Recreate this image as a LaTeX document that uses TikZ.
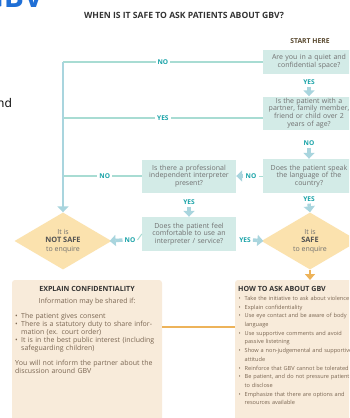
\documentclass[tikz,border=0pt]{standalone}
\usepackage{fontspec}
\setmainfont{Open Sans}
\usetikzlibrary{arrows.meta,shapes.geometric}
\definecolor{tealbox}{HTML}{D3EBE7}
\definecolor{tealline}{HTML}{A8DCD3}
\definecolor{tealarrow}{HTML}{A9D5DE}
\definecolor{teallabel}{HTML}{19A3A8}
\definecolor{diam}{HTML}{FBE2AE}
\definecolor{peach}{HTML}{F8EBDA}
\definecolor{orangeline}{HTML}{EDB35A}
\definecolor{boxtext}{HTML}{707070}
\definecolor{browntext}{HTML}{7A6652}
\definecolor{darktitle}{HTML}{333333}
\definecolor{starttitle}{HTML}{5A4A30}
\definecolor{logoblue}{HTML}{1F6FD6}
\newcommand{\bl}{\makebox[6pt][l]{•}}
\newcommand{\ind}{\hspace*{6pt}}
\begin{document}
\begin{tikzpicture}[x=1pt,y=-1pt,
  qbox/.style={fill=tealbox, draw=none, text=boxtext, font=\fontsize{7}{7.7}\selectfont,
    align=center, minimum width=92pt, inner sep=1pt, text width=90pt},
  lbl/.style={text=teallabel, font=\bfseries\fontsize{6.6}{7}\selectfont, inner sep=2pt, fill=white},
  conn/.style={draw=tealline, line width=2pt},
  fat/.style={draw=tealarrow, line width=3.5pt, -{Triangle[width=11pt,length=6pt]}},
  dnode/.style={diamond, fill=diam, minimum width=97pt, minimum height=57pt, inner sep=0pt,
    aspect=1.7, text=boxtext, font=\fontsize{7}{12}\selectfont, align=center},
  infobox/.style={fill=peach, rounded corners=3pt, anchor=north west},
  btext/.style={text=browntext, font=\fontsize{7}{8.2}\selectfont, align=left, inner sep=0pt, anchor=north west},
  btitle/.style={text=darktitle, font=\bfseries\fontsize{7.1}{8}\selectfont, inner sep=0pt}
]
\clip (0,0) rectangle (349,418);
\useasboundingbox (0,0) rectangle (349,418);
\fill[white] (0,0) rectangle (349,418);

% stray fragments of the surrounding slide
\node[text=logoblue, font=\bfseries\fontsize{30}{30}\selectfont, anchor=base west, inner sep=0pt] (logo) at (-18,7) {GBV};
\node[text=black, font=\fontsize{12}{12}\selectfont, anchor=base west, inner sep=0pt] (nd) at (-3,107) {nd};

% title
\node[text=darktitle, font=\bfseries\fontsize{8.6}{10}\selectfont] (title) at (184,15) {WHEN IS IT SAFE TO ASK PATIENTS ABOUT GBV?};
\node[text=starttitle, font=\bfseries\fontsize{6.8}{8}\selectfont] (start) at (310,41) {START HERE};

% right column questions
\node[qbox, minimum height=24pt] (b1) at (309,62) {Are you in a quiet and\\confidential space?};
\node[qbox, minimum height=33pt] (b2) at (309,113) {Is the patient with a\\partner, family member,\\friend or child over 2\\years of age?};
\node[qbox, minimum height=34pt] (b3) at (309,176) {Does the patient speak\\the language of the\\country?};
% middle column
\node[qbox, minimum width=94pt, text width=92pt, minimum height=33pt] (b4) at (189,176) {Is there a professional\\independent interpreter\\present?};
\node[qbox, minimum width=94pt, text width=92pt, minimum height=34pt] (b5) at (189,234) {Does the patient feel\\comfortable to use an\\interpreter / service?};

% diamonds
\node[dnode] (notsafe) at (63,241) {It is\\[-3.5pt]{\bfseries\color{darktitle!85!white}\fontsize{7.4}{8}\selectfont NOT SAFE}\\[-3.5pt]to enquire};
\node[dnode] (safe) at (310,241) {It is\\[-3.5pt]{\bfseries\color{darktitle!85!white}\fontsize{7.4}{8}\selectfont SAFE}\\[-3.5pt]to enquire};

% vertical stem on the left
\coordinate (L1) at (63,62);
\coordinate (L2) at (63,118);
\coordinate (L3) at (63,176);
\draw[conn] (b1.west) -- node[lbl] {NO} (L1);
\draw[conn] ([yshift=-5pt]b2.west) -- node[lbl] {YES} (L2);
\draw[conn] (b4.west) -- node[lbl, pos=0.47] {NO} (L3);
\draw[draw=tealarrow, line width=2.5pt, -{Triangle[width=11pt,length=6pt]}] (L1) -- (notsafe.north);

% right column arrows
\node[lbl] (y1) at (309,82) {YES};
\draw[fat] (y1.south) -- (b2.north);
\node[lbl] (n2) at (309,143) {NO};
\draw[fat] (n2.south) -- (b3.north);
\node[lbl] (y3) at (309,199) {YES};
\draw[fat] (y3.south) -- (safe.north);

% b3 -> b4
\node[lbl] (n3) at (251,176) {NO};
\draw[fat] (n3.west) -- (b4.east);
\draw[conn, line width=1pt] (b3.west) -- (n3.east);
% b4 -> b5
\node[lbl] (y4) at (189,202) {YES};
\draw[fat] (y4.south) -- (b5.north);
% b5 -> diamonds
\node[lbl] (n5) at (130,240) {NO};
\draw[fat] (n5.west) -- ([xshift=-2pt]notsafe.east);
\draw[conn, line width=1pt] (b5.west) -- (n5.east);
\node[lbl] (y5) at (245,240) {YES};
\draw[fat] (y5.east) -- ([xshift=2pt]safe.west);

% info boxes
\fill[infobox] (12,280) rectangle (162,430);
\fill[infobox] (235,280) rectangle (360,430);
\coordinate (eR) at (162,327);
\coordinate (hL) at (235,327);
\draw[orangeline, line width=1.5pt] (eR) -- (hL);
\draw[orangeline, line width=2pt, -{Triangle[width=10pt,length=6pt]}] (safe.south) -- (310,280);

\node[btitle] (etitle) at (87,288.5) {EXPLAIN CONFIDENTIALITY};
\node[btext, anchor=center] (einfo) at (87,302) {Information may be shared if:};
\node[btext, text width=148pt] (elist) at (15,312.5) {%
\bl The patient gives consent\\
\bl There is a statutory duty to share infor-\\
\ind mation (ex. court order)\\
\bl It is in the best public interest (including\\
\ind safeguarding children)\\[6pt]
You will not inform the partner about the\\
discussion around GBV};

\node[btitle] (htitle) at (282,289) {HOW TO ASK ABOUT GBV};
\node[btext, text width=200pt, font=\fontsize{5.6}{8.7}\selectfont] (hlist) at (238.5,296) {%
\bl Take the initiative to ask about violence\\
\bl Explain confidentiality\\
\bl Use eye contact and be aware of body\\
\ind language\\
\bl Use supportive comments and avoid\\
\ind passive listetning\\
\bl Show a non-judgemental and supportive\\
\ind attitude\\
\bl Reinforce that GBV cannot be tolerated\\
\bl Be patient, and do not pressure patient\\
\ind to disclose\\
\bl Emphasize that there are options and\\
\ind resources available};
\end{tikzpicture}
\end{document}
